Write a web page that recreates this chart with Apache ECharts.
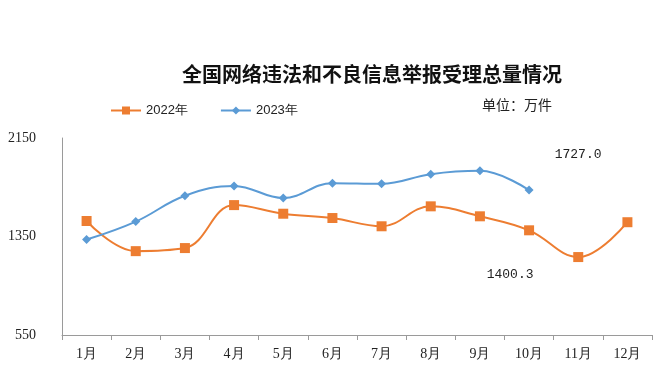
<!DOCTYPE html>
<html><head><meta charset="utf-8">
<script src="https://cdn.jsdelivr.net/npm/echarts@6/dist/echarts.min.js"></script>
<style>html,body{margin:0;padding:0;background:#fff}#c{width:656px;height:374px}</style>
</head><body><div id="c"></div>
<script>
const months = ['1月','2月','3月','4月','5月','6月','7月','8月','9月','10月','11月','12月'];
const values2022 = [1476, 1231, 1256, 1605, 1535, 1500, 1433, 1595, 1514, 1400.3, 1183, 1466];
const values2023 = [1325, 1471, 1681, 1761, 1662, 1783, 1778, 1856, 1883, 1727.0];
const yMin = 550, yMax = 2150, yStep = 800;

const chart = echarts.init(document.getElementById('c'));
function withLastLabel(arr, idx, offset, text) {
  return arr.map((v, i) => i === idx ? {
    value: v,
    label: { show: true, position: 'inside', offset: offset, formatter: text,
      fontFamily: 'Liberation Mono', fontSize: 13, color: '#222' }
  } : v);
}
chart.setOption({
  animation: false,
  title: {
    text: '全国网络违法和不良信息举报受理总量情况',
    left: 367, top: 59, textAlign: 'center',
    textStyle: { fontFamily: 'Noto Sans CJK SC', fontWeight: 'bold', fontSize: 20, color: '#111' }
  },
  legend: {
    left: 105, top: 99, itemWidth: 30, itemHeight: 10, itemGap: 32,
    textStyle: { fontFamily: 'Liberation Sans Narrow, Liberation Sans', fontSize: 13, color: '#222' },
    data: ['2022年', '2023年']
  },
  graphic: [{
    type: 'text', left: 482, top: 98,
    style: { text: '单位：万件', font: '14px "Noto Sans CJK SC"', fill: '#222' }
  }],
  grid: { left: 62, right: 4, top: 138, bottom: 39 },
  xAxis: {
    type: 'category', data: months, boundaryGap: true,
    axisLine: { lineStyle: { color: '#9a9a9a' } },
    axisTick: { show: true, length: 5, lineStyle: { color: '#9a9a9a' } },
    axisLabel: { fontFamily: 'Liberation Serif', fontSize: 14, color: '#222', margin: 12 }
  },
  yAxis: {
    type: 'value', min: yMin, max: yMax, interval: yStep,
    axisLine: { show: true, lineStyle: { color: '#9a9a9a' } },
    axisTick: { show: false },
    splitLine: { show: false },
    axisLabel: { fontFamily: 'Liberation Serif', fontSize: 14, color: '#222', margin: 26,
      formatter: v => String(v) }
  },
  series: [{
    name: '2022年', type: 'line', smooth: 0.4,
    data: withLastLabel(values2022, 9, [-19, 44], '1400.3'),
    symbol: 'rect', symbolSize: 10,
    lineStyle: { width: 2, color: '#ed7d31' },
    itemStyle: { color: '#ed7d31' }
  }, {
    name: '2023年', type: 'line', smooth: 0.4,
    data: withLastLabel(values2023, 9, [49, -36], '1727.0'),
    symbol: 'diamond', symbolSize: 9,
    lineStyle: { width: 2, color: '#5b9bd5' },
    itemStyle: { color: '#5b9bd5' }
  }]
});
</script></body></html>
